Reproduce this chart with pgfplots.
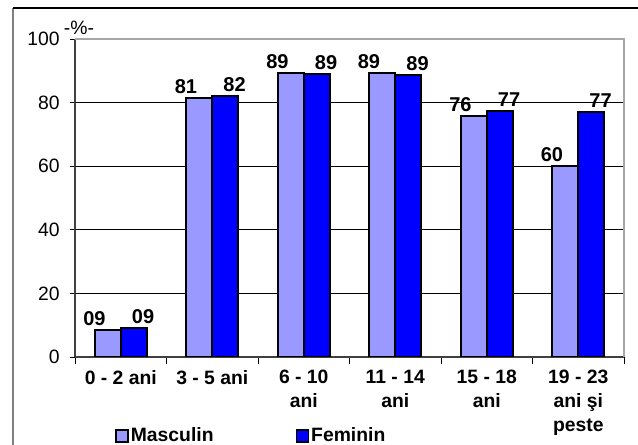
\documentclass[border=0pt]{standalone}
\usepackage{pgfplots}
\usepackage{pgfplotstable}
\pgfplotsset{compat=1.18}
\usepackage{fontspec}
\setmainfont{Liberation Sans}
\definecolor{masc}{HTML}{9999FF}
\definecolor{fem}{HTML}{0000FF}

% value + printed label, one row per age group
\pgfplotstableread{
x y lab
0 8.5 09
1 81.3 81
2 89.3 89
3 89.3 89
4 75.8 76
5 60.0 60
}\masc
\pgfplotstableread{
x y lab
0 9.0 09
1 82.0 82
2 89.0 89
3 88.6 89
4 77.3 77
5 77.0 77
}\fem

\begin{document}
\begin{tikzpicture}[x=1pt,y=1pt]
\path[use as bounding box] (0,0) rectangle (478.5,333.75);
\begin{axis}[
    at={(56.25pt,66pt)}, anchor=south west,
    scale only axis, width=411.75pt, height=238.5pt,
    ybar=0pt, bar width=19.5pt,
    xmin=-0.5, xmax=5.5, ymin=0, ymax=100,
    xtick={0,...,5},
    xticklabels={0 - 2 ani, 3 - 5 ani, 6 - 10\\ani, 11 - 14\\ani, 15 - 18\\ani, 19 - 23\\ani şi\\peste},
    minor xtick={-0.5,0.5,...,5.5},
    ytick={0,20,...,100},
    axis x line*=bottom, axis y line*=left,
    axis line style={line width=1pt, black!75},
    tick align=outside,
    major tick length=4pt, minor tick length=5pt,
    major x tick style={draw=none},
    tick style={black, line width=0.7pt},
    ymajorgrids, major grid style={black, line width=0.6pt},
    /pgf/number format/assume math mode=true,
    yticklabel style={font=\fontsize{14.5}{17}\selectfont, xshift=-4pt},
    xticklabel style={font=\bfseries\fontsize{14.5}{18}\selectfont, align=center, yshift=-2.5pt},
    nodes near coords, point meta=explicit symbolic,
    nodes near coords style={font=\bfseries\fontsize{15}{17}\selectfont, inner sep=2.5pt},
    legend image code/.code={\draw[#1, line width=1.2pt] (0pt,-4.5pt) rectangle (9pt,4.5pt);},
    legend style={at={(axis description cs:0.0729,-0.2484)}, anchor=west,
        draw=none, fill=none, inner sep=0pt, legend columns=2,
        font=\bfseries\fontsize{14.5}{16}\selectfont,
        nodes={inner sep=1.5pt},
        /tikz/every even column/.append style={column sep=60pt}},
    after end axis/.code={\draw[gray!70, line width=1.2pt] (rel axis cs:0,1) -- (rel axis cs:1,1) -- (rel axis cs:1,0);},
]
\addplot[fill=masc, draw=black, line width=1.5pt,
    every node near coord/.append style={xshift=-10pt}]
    table[x=x, y=y, meta=lab]{\masc};
\addlegendentry{Masculin}
\addplot[fill=fem, draw=black, line width=1.5pt,
    every node near coord/.append style={xshift=7pt}]
    table[x=x, y=y, meta=lab]{\fem};
\addlegendentry{Feminin}
\end{axis}
\draw[gray, line width=1pt] (9.75,0) -- (9.75,327.75);
\draw[black, line width=1pt] (9.75,327.75) -- (478.5,327.75);
\node[font=\fontsize{14.5}{16}\selectfont] at (59.25,312.75) {-\%-};
\end{tikzpicture}
\end{document}
